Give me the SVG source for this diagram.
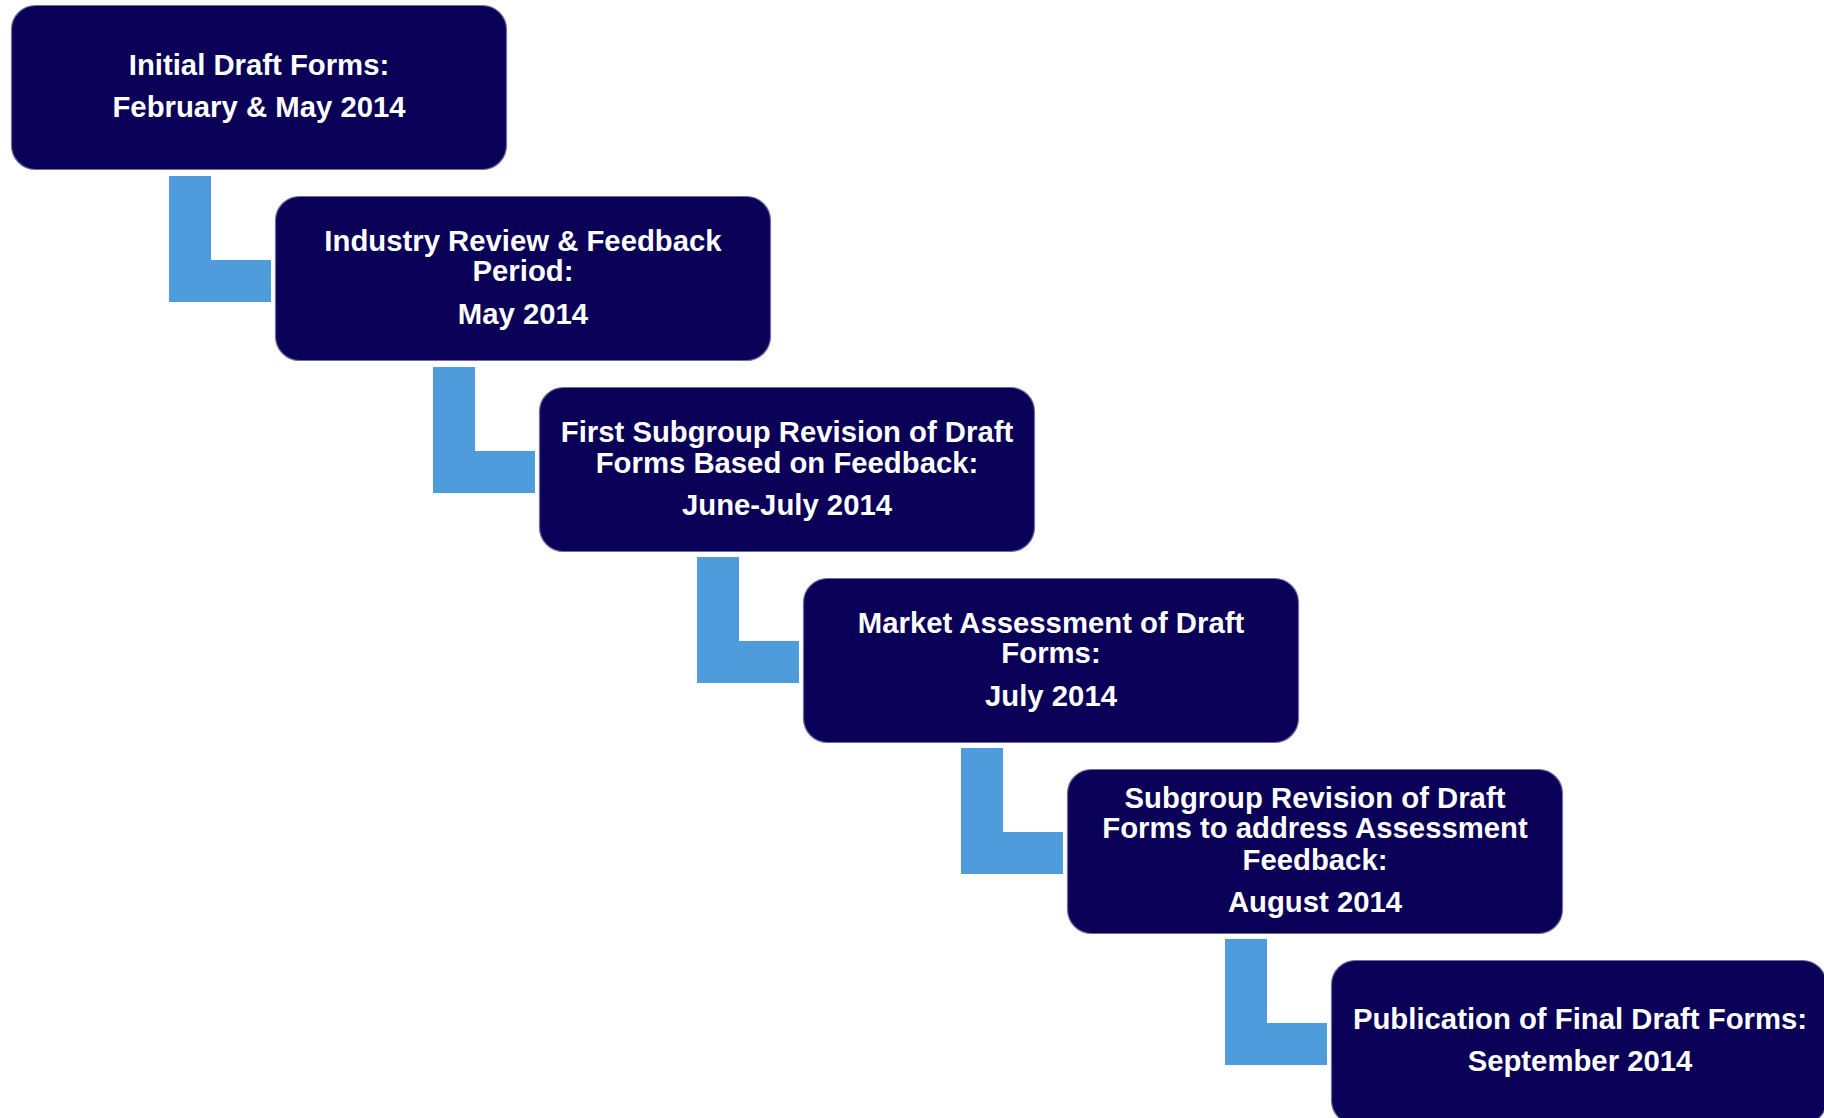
<svg xmlns="http://www.w3.org/2000/svg" width="1824" height="1118" viewBox="0 0 1824 1118">
<style>
.box{fill:#0a0058;stroke:#6e6e9e;stroke-width:1.2}
.conn{fill:#4f9cdc}
text{font-family:"Liberation Sans",Arial,sans-serif;font-weight:bold;font-size:29.3px;fill:#ffffff;text-anchor:middle}
</style>
<defs>
<path id="ell" d="M0,0 H42 V84 H102 V126 H0 Z"/>
</defs>
<rect width="1824" height="1118" fill="#ffffff"/>
<g id="connectors">
<use href="#ell" class="conn" x="169" y="176"/>
<use href="#ell" class="conn" x="433" y="367"/>
<use href="#ell" class="conn" x="697" y="557"/>
<use href="#ell" class="conn" x="961" y="748"/>
<use href="#ell" class="conn" x="1225" y="939"/>
</g>
<g id="node1">
<rect class="box" x="11.5" y="5.5" width="495" height="164" rx="24"/>
<text x="259" y="75">Initial Draft Forms:</text>
<text x="259" y="117">February &amp; May 2014</text>
</g>
<g id="node2">
<rect class="box" x="275.5" y="196.5" width="495" height="164" rx="24"/>
<text x="523" y="251">Industry Review &amp; Feedback</text>
<text x="523" y="281">Period:</text>
<text x="523" y="324">May 2014</text>
</g>
<g id="node3">
<rect class="box" x="539.5" y="387.5" width="495" height="164" rx="24"/>
<text x="787" y="442">First Subgroup Revision of Draft</text>
<text x="787" y="473">Forms Based on Feedback:</text>
<text x="787" y="515">June-July 2014</text>
</g>
<g id="node4">
<rect class="box" x="803.5" y="578.5" width="495" height="164" rx="24"/>
<text x="1051" y="633">Market Assessment of Draft</text>
<text x="1051" y="663">Forms:</text>
<text x="1051" y="706">July 2014</text>
</g>
<g id="node5">
<rect class="box" x="1067.5" y="769.5" width="495" height="164" rx="24"/>
<text x="1315" y="808">Subgroup Revision of Draft</text>
<text x="1315" y="838">Forms to address Assessment</text>
<text x="1315" y="870">Feedback:</text>
<text x="1315" y="912">August 2014</text>
</g>
<g id="node6">
<rect class="box" x="1331.5" y="960.5" width="495" height="164" rx="24"/>
<text x="1580" y="1029">Publication of Final Draft Forms:</text>
<text x="1580" y="1071">September 2014</text>
</g>
</svg>
